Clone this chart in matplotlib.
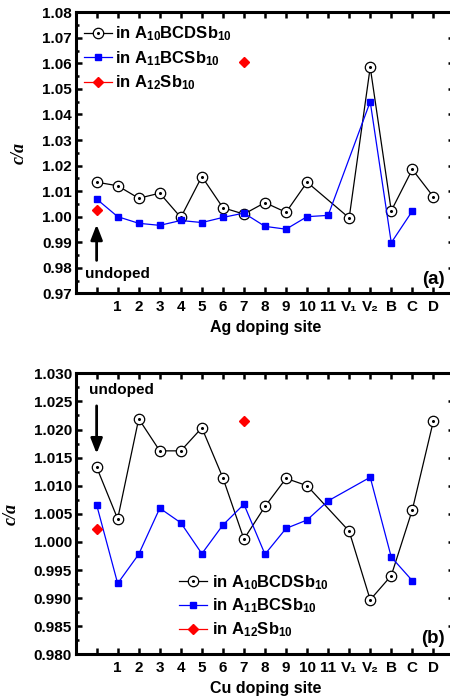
import numpy as np
import matplotlib
matplotlib.use("Agg")
import matplotlib.pyplot as plt
from matplotlib.ticker import MultipleLocator, FixedLocator
from matplotlib.legend_handler import HandlerTuple

plt.rcParams['font.family'] = ['Liberation Sans', 'DejaVu Sans']
plt.rcParams['font.weight'] = 'bold'
plt.rcParams['mathtext.fontset'] = 'custom'
plt.rcParams['mathtext.rm'] = 'Liberation Sans:bold'
plt.rcParams['mathtext.bf'] = 'Liberation Sans:bold'
plt.rcParams['mathtext.default'] = 'rm'

sites = ['', '1', '2', '3', '4', '5', '6', '7', '8', '9', '10', '11',
         'V₁', 'V₂', 'B', 'C', 'D']
nan = np.nan

# Panel (a): Ag doping
ag_A10BCD = [1.0135, 1.0121, 1.0072, 1.0092, 0.9997, 1.0157, 1.0035, 1.0010,
             1.0055, 1.0017, 1.0135, nan, 0.9995, 1.0585, 1.0023, 1.0185, 1.0078]
ag_A11BC = [1.0069, 1.0000, 0.9974, 0.9966, 0.9985, 0.9977, 0.9997, 1.0014,
            0.9962, 0.9951, 1.0000, 1.0005, nan, 1.0450, 0.9898, 1.0022, nan]
ag_A12_sites = [0, 7]
ag_A12 = [1.0026, 1.0607]

# Panel (b): Cu doping
cu_A10BCD = [1.0133, 1.0041, 1.0219, 1.0162, 1.0162, 1.0203, 1.0114, 1.0005,
             1.0063, 1.0113, 1.0100, nan, 1.0019, 0.9897, 0.9940, 1.0057, 1.0215]
cu_A11BC = [1.0066, 0.9926, 0.9978, 1.0060, 1.0034, 0.9979, 1.0030, 1.0067,
            0.9978, 1.0024, 1.0039, 1.0073, nan, 1.0115, 0.9973, 0.9931, nan]
cu_A12_sites = [0, 7]
cu_A12 = [1.0023, 1.0215]

labels = ['in A$_{10}$BCDSb$_{10}$', 'in A$_{11}$BCSb$_{10}$', 'in A$_{12}$Sb$_{10}$']

fig = plt.figure(figsize=(4.5, 6.98), dpi=100)
W = 450.0; H = 698.0
def px_axes(l, t, r, b):
    return fig.add_axes([l / W, 1 - b / H, (r - l) / W, (b - t) / H])

ax_a = px_axes(76, 12.3, 454.4, 293.3)
ax_b = px_axes(76, 373.3, 454.4, 654.3)

def draw(ax, black, blue, red_x, red_y):
    x = np.arange(len(sites))
    bk = np.array(black); bl = np.array(blue)
    mk = ~np.isnan(bk); mb = ~np.isnan(bl)
    l1, = ax.plot(x[mk], bk[mk], '-', color='black', lw=0.9, marker='o', ms=7.5,
                  mfc='white', mec='black', mew=0.9, zorder=3)
    d1, = ax.plot(x[mk], bk[mk], ls='none', marker='o', ms=1.2, color='black',
                  zorder=3.1)
    l2, = ax.plot(x[mb], bl[mb], '-', color='#0000ff', lw=0.9, marker='s', ms=5,
                  mfc='#0000ff', mec='#0000ff', zorder=4)
    l3, = ax.plot(red_x, red_y, ls='none', color='#ff0000', marker='D', ms=5,
                  mfc='#ff0000', mec='#ff0000', zorder=5)
    l3p, = ax.plot([], [], '-', color='#ff0000', lw=0.9, marker='D', ms=5)
    ax.set_xlim(-0.98, 17)
    ax.xaxis.set_major_locator(FixedLocator(x))
    ax.set_xticklabels(sites)
    for sp in ax.spines.values():
        sp.set_linewidth(2.2)
    ax.tick_params(axis='both', which='both', direction='in', top=True, right=True,
                   width=1.8)
    ax.tick_params(axis='y', labelsize=11, pad=3)
    ax.tick_params(axis='x', labelsize=11, pad=5)
    ax.tick_params(axis='both', which='major', length=4)
    ax.tick_params(axis='y', which='minor', length=2.5)
    for t in ax.get_xticklabels() + ax.get_yticklabels():
        t.set_fontweight('bold')
    ax.set_ylabel('c/a', family='Liberation Serif', style='italic', fontweight='bold',
                  fontsize=13, labelpad=10)
    return [(l1, d1), l2, l3p]

hm = {tuple: HandlerTuple(ndivide=1, pad=0)}

h = draw(ax_a, ag_A10BCD, ag_A11BC, ag_A12_sites, ag_A12)
ax_a.set_ylim(0.97, 1.08)
ax_a.yaxis.set_major_locator(MultipleLocator(0.01))
ax_a.yaxis.set_minor_locator(MultipleLocator(0.005))
ax_a.yaxis.set_major_formatter(matplotlib.ticker.FormatStrFormatter('%.2f'))
ax_a.set_xlabel('Ag doping site', fontsize=11.5, fontweight='bold', labelpad=4)
ax_a.legend(h, labels, handler_map=hm,
            loc='upper left', bbox_to_anchor=(-0.005, 0.992), frameon=False,
            fontsize=12, handlelength=1.65, handletextpad=0.2, labelspacing=0.35,
            borderaxespad=0.2)
ax_a.annotate('', xy=(0, 0.998), xytext=(0, 0.9818),
              arrowprops=dict(arrowstyle='-|>,head_width=0.35,head_length=0.9',
                              color='black', lw=2))
ax_a.text(0.98, 0.9776, 'undoped', ha='center', va='center', fontsize=11,
          fontweight='bold')
ax_a.text(16.55, 0.9755, '(a)', ha='right', va='center', fontsize=13.5, fontweight='bold')

h = draw(ax_b, cu_A10BCD, cu_A11BC, cu_A12_sites, cu_A12)
ax_b.set_ylim(0.98, 1.03)
ax_b.yaxis.set_major_locator(MultipleLocator(0.005))
ax_b.yaxis.set_minor_locator(MultipleLocator(0.0025))
ax_b.yaxis.set_major_formatter(matplotlib.ticker.FormatStrFormatter('%.3f'))
ax_b.set_xlabel('Cu doping site', fontsize=11.5, fontweight='bold', labelpad=4)
ax_b.legend(h, labels, handler_map=hm,
            loc='upper left', bbox_to_anchor=(0.245, 0.325), frameon=False,
            fontsize=12, handlelength=1.7, handletextpad=0.3, labelspacing=0.3,
            borderaxespad=0.2)
ax_b.annotate('', xy=(0, 1.0152), xytext=(0, 1.0247),
              arrowprops=dict(arrowstyle='-|>,head_width=0.35,head_length=0.9',
                              color='black', lw=2))
ax_b.text(1.2, 1.027, 'undoped', ha='center', va='center', fontsize=11,
          fontweight='bold')
ax_b.text(16.55, 0.9828, '(b)', ha='right', va='center', fontsize=13.5, fontweight='bold')

fig.savefig('out.png', dpi=100)
